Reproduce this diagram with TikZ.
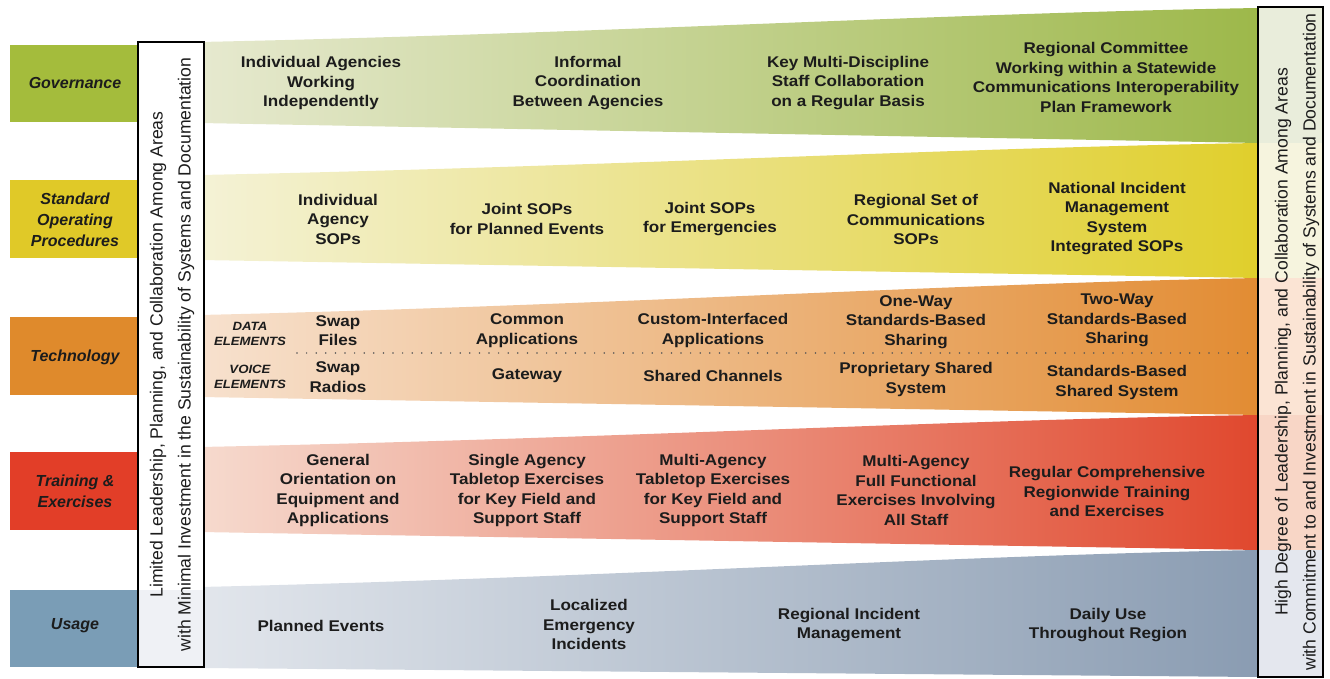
\documentclass[tikz,border=0pt]{standalone}
\usepackage{fontspec}
\setmainfont{Liberation Sans}
\newfontfamily\bandfont{Liberation Sans}[FakeStretch=1.1]
\usepackage{tikz}
\usetikzlibrary{calc}
\usepackage{xcolor}
% colori delle righe
\definecolor{testo}{HTML}{1C1C1C}
\definecolor{govC}{HTML}{A4BC3C}
\definecolor{govL}{HTML}{E6E9CF}
\definecolor{govR}{HTML}{9DB84A}
\definecolor{govP}{HTML}{E9EDDB}
\definecolor{sopC}{HTML}{E0C928}
\definecolor{sopL}{HTML}{F4F2D6}
\definecolor{sopR}{HTML}{E0CF2C}
\definecolor{sopP}{HTML}{F6F4DE}
\definecolor{tecC}{HTML}{DF8A2C}
\definecolor{tecL}{HTML}{F7E1CE}
\definecolor{tecR}{HTML}{E28C33}
\definecolor{tecP}{HTML}{FBE4D4}
\definecolor{trnC}{HTML}{E23E28}
\definecolor{trnL}{HTML}{F6DACE}
\definecolor{trnR}{HTML}{E0482E}
\definecolor{trnP}{HTML}{F8D6C6}
\definecolor{useC}{HTML}{7A9DB6}
\definecolor{useL}{HTML}{E2E6EC}
\definecolor{useR}{HTML}{8A9CB2}
\definecolor{useP}{HTML}{E4E7EE}

\begin{document}
\begin{tikzpicture}[x=1pt, y=-1pt,
    bandtext/.style={align=center, text=testo, font=\bandfont\bfseries\fontsize{15.5}{19.5}\selectfont},
    rowlabel/.style={align=center, text=testo, font=\bfseries\itshape\fontsize{16}{21}\selectfont},
    elemtext/.style={align=center, text=testo, font=\bandfont\bfseries\itshape\fontsize{12}{15}\selectfont},
    sidenote/.style={align=center, rotate=90, text=testo, font=\fontsize{17.6}{28}\selectfont},
    puntini/.style={line width=1.7pt, dash pattern=on 0pt off 9.6pt, line cap=round, draw=testo!75}]
    \useasboundingbox (0,0) rectangle (1330,679);

    % Fasce che si allargano verso destra
    \foreach \tl/\tr/\bl/\br/\cl/\cr in {42/8/123/143/govL/govR, 175/143/260/278/sopL/sopR, 315/278/397/415/tecL/tecR, 447/415/532/550/trnL/trnR, 587/550/668/677/useL/useR}{
        \shade[left color=\cl, right color=\cr] (200,\tl) .. controls (600,{\tl-0.25*(\tl-\tr)}) and (950,{\tl-0.85*(\tl-\tr)}) .. (1258,\tr) -- (1258,\br) -- (200,\bl) -- cycle;
    };
    % Riquadri delle etichette a sinistra
    \fill[govC] (10,45) rectangle (140,122);
    \fill[sopC] (10,180) rectangle (140,258);
    \fill[tecC] (10,317) rectangle (140,395);
    \fill[trnC] (10,452) rectangle (140,530);
    \fill[useC] (10,590) rectangle (140,667);
    \node[rowlabel] (lgov) at (75,83) {Governance};
    \node[rowlabel] (lsop) at (75,220) {Standard\\Operating\\Procedures};
    \node[rowlabel] (ltec) at (75,357) {Technology};
    \node[rowlabel] (ltrn) at (75,491) {Training \&\\Exercises};
    \node[rowlabel] (luse) at (75,626) {Usage};

    % Colonna di sinistra
    \fill[white] (138,42) rectangle (204,667);
    \fill[useP!60] (138,590) rectangle (204,667);
    \draw[line width=1.5pt] (138,42) rectangle (204,667);
    \node[sidenote] (basso) at (172,354.5) {Limited Leadership, Planning, and Collaboration Among Areas\\with Minimal Investment in the Sustainability of Systems and Documentation};

    % Colonna di destra
    \fill[govP] (1258,7) rectangle (1323,143);
    \fill[sopP] (1258,143) rectangle (1323,278);
    \fill[tecP] (1258,278) rectangle (1323,415);
    \fill[trnP] (1258,415) rectangle (1323,550);
    \fill[useP] (1258,550) rectangle (1323,677);
    \draw[line width=1.5pt] (1258,7) rectangle (1323,677);
    \node[sidenote] (alto) at (1297,342) {High Degree of Leadership, Planning, and Collaboration Among Areas\\with Commitment to and Investment in Sustainability of Systems and Documentation};

    % Governance
    \node[bandtext] (gov1) at (321,83) {Individual Agencies\\Working\\Independently};
    \node[bandtext] (gov2) at (588,83) {Informal\\Coordination\\Between Agencies};
    \node[bandtext] (gov3) at (848,83) {Key Multi-Discipline\\Staff Collaboration\\on a Regular Basis};
    \node[bandtext] (gov4) at (1106,77.5) {Regional Committee\\Working within a Statewide\\Communications Interoperability\\Plan Framework};
    % Standard Operating Procedures
    \node[bandtext] (sop1) at (338,219) {Individual\\Agency\\SOPs};
    \node[bandtext] (sop2) at (527,219) {Joint SOPs\\for Planned Events};
    \node[bandtext] (sop3) at (710,219) {Joint SOPs\\for Emergencies};
    \node[bandtext] (sop4) at (916,219.5) {Regional Set of\\Communications\\SOPs};
    \node[bandtext] (sop5) at (1117,218.5) {National Incident\\Management\\System\\Integrated SOPs};
    % Technology
    \node[elemtext] (dati) at (250,333.5) {DATA\\ELEMENTS};
    \node[elemtext] (voce) at (250,376.5) {VOICE\\ELEMENTS};
    \draw[puntini] (297,353) -- (1255,353);
    \node[bandtext] (dat1) at (338,330.5) {Swap\\Files};
    \node[bandtext] (dat2) at (527,330.5) {Common\\Applications};
    \node[bandtext] (dat3) at (713,330.5) {Custom-Interfaced\\Applications};
    \node[bandtext] (dat4) at (916,322) {One-Way\\Standards-Based\\Sharing};
    \node[bandtext] (dat5) at (1117,320.5) {Two-Way\\Standards-Based\\Sharing};
    \node[bandtext] (voc1) at (338,377) {Swap\\Radios};
    \node[bandtext] (voc2) at (527,376) {Gateway};
    \node[bandtext] (voc3) at (713,376) {Shared Channels};
    \node[bandtext] (voc4) at (916,379.5) {Proprietary Shared\\System};
    \node[bandtext] (voc5) at (1117,382.5) {Standards-Based\\Shared System};
    % Training & Exercises
    \node[bandtext] (trn1) at (338,490.5) {General\\Orientation on\\Equipment and\\Applications};
    \node[bandtext] (trn2) at (527,490.5) {Single Agency\\Tabletop Exercises\\for Key Field and\\Support Staff};
    \node[bandtext] (trn3) at (713,490.5) {Multi-Agency\\Tabletop Exercises\\for Key Field and\\Support Staff};
    \node[bandtext] (trn4) at (916,490.5) {Multi-Agency\\Full Functional\\Exercises Involving\\All Staff};
    \node[bandtext] (trn5) at (1107,491.5) {Regular Comprehensive\\Regionwide Training\\and Exercises};
    % Usage
    \node[bandtext] (use1) at (321,626) {Planned Events};
    \node[bandtext] (use2) at (589,624.5) {Localized\\Emergency\\Incidents};
    \node[bandtext] (use3) at (849,625) {Regional Incident\\Management};
    \node[bandtext] (use4) at (1108,625) {Daily Use\\Throughout Region};
\end{tikzpicture}
\end{document}
